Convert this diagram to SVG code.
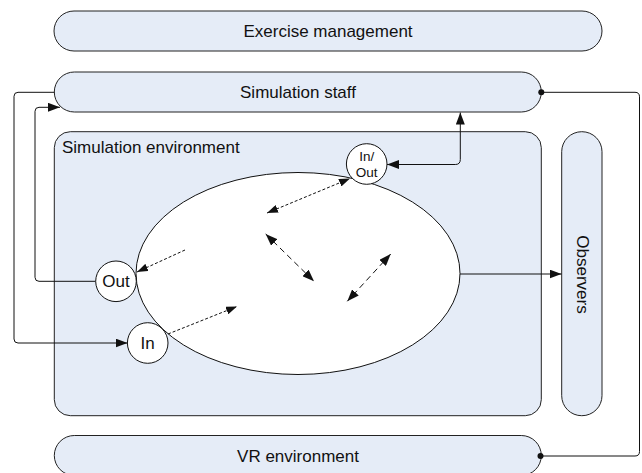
<svg xmlns="http://www.w3.org/2000/svg" width="642" height="473" viewBox="0 0 642 473">
<style>
.box{fill:#e5ecf7;stroke:#222;stroke-width:1}
.t{font-family:"Liberation Sans",Arial,sans-serif;font-size:17px;fill:#111}
.c{text-anchor:middle}
.ln{fill:none;stroke:#111;stroke-width:1}
.dot{fill:none;stroke:#111;stroke-width:1;stroke-dasharray:3,2}
.dash{fill:none;stroke:#111;stroke-width:1;stroke-dasharray:6,4}
.circ{fill:#fff;stroke:#111;stroke-width:1}
</style>
<defs>
<marker id="ah" viewBox="0 0 12 9" refX="12" refY="4.5" markerWidth="12" markerHeight="9" markerUnits="userSpaceOnUse" orient="auto-start-reverse"><path d="M0,0 L12,4.5 L0,9 z" fill="#111"/></marker>
<marker id="ahs" viewBox="0 0 11 8" refX="11" refY="4" markerWidth="11" markerHeight="8" markerUnits="userSpaceOnUse" orient="auto-start-reverse"><path d="M0,0 L11,4 L0,8 z" fill="#111"/></marker>
</defs>

<g id="exercise-management">
<rect class="box" x="54" y="11" width="548" height="40" rx="20"/>
<text class="t c" x="328" y="37">Exercise management</text>
</g>
<g id="simulation-staff">
<rect class="box" x="54.3" y="72" width="487" height="40" rx="20"/>
<text class="t c" x="298" y="98">Simulation staff</text>
</g>
<g id="simulation-environment">
<rect class="box" x="54.3" y="131.7" width="487" height="284" rx="16"/>
<text class="t" x="62" y="153">Simulation environment</text>
<ellipse cx="298" cy="273.5" rx="162" ry="101" fill="#fff" stroke="#111" stroke-width="1"/>
</g>
<g id="observers">
<rect class="box" x="561.7" y="131.7" width="40.3" height="284" rx="20"/>
<text class="t c" transform="translate(582.5,274.5) rotate(90)" x="0" y="6">Observers</text>
</g>
<g id="vr-environment">
<rect class="box" x="54.3" y="435.5" width="487" height="40" rx="20"/>
<text class="t c" x="298" y="461.5">VR environment</text>
</g>

<g id="connectors">
<path class="ln" d="M54.3,92.3 H18 Q14,92.3 14,96.3 V339 Q14,343 18,343 H127.5" marker-end="url(#ah)"/>
<path class="ln" d="M95.7,281.3 H39 Q35,281.3 35,277.3 V111.3 Q35,107.3 39,107.3 H60" marker-end="url(#ah)"/>
<path class="ln" d="M387,164.5 H455.3 Q460.3,164.5 460.3,159.5 V112.5" marker-start="url(#ah)" marker-end="url(#ah)"/>
<path class="ln" d="M541.3,92.3 H635 Q639.5,92.3 639.5,96.8 V451.5 Q639.5,456 635,456 H540.5"/>
<circle cx="541.3" cy="92.3" r="3" fill="#111"/>
<circle cx="540.5" cy="456" r="3" fill="#111"/>
<path class="ln" d="M460,274 H561.5" marker-end="url(#ah)"/>
<path class="dot" d="M267,213 L350,178.5" marker-start="url(#ahs)" marker-end="url(#ahs)"/>
<path class="dot" d="M185,250 L137,272" marker-end="url(#ahs)"/>
<path class="dot" d="M168,334 L237,306.5" marker-end="url(#ahs)"/>
<path class="dash" d="M265.7,234 L314,281.3" marker-start="url(#ah)" marker-end="url(#ah)"/>
<path class="dash" d="M390.7,254 L347.3,301.3" marker-start="url(#ah)" marker-end="url(#ah)"/>
</g>

<g id="in-out">
<circle class="circ" cx="366.7" cy="164" r="20.3"/>
<text class="t c" style="font-size:13.5px" x="366.7" y="160.5">In/</text>
<text class="t c" style="font-size:13.5px" x="366.7" y="176.5">Out</text>
</g>
<g id="out">
<circle class="circ" cx="116" cy="281.3" r="20.3"/>
<text class="t c" x="116" y="287.3">Out</text>
</g>
<g id="in">
<circle class="circ" cx="147.7" cy="343" r="20.3"/>
<text class="t c" x="147.7" y="349">In</text>
</g>
</svg>
